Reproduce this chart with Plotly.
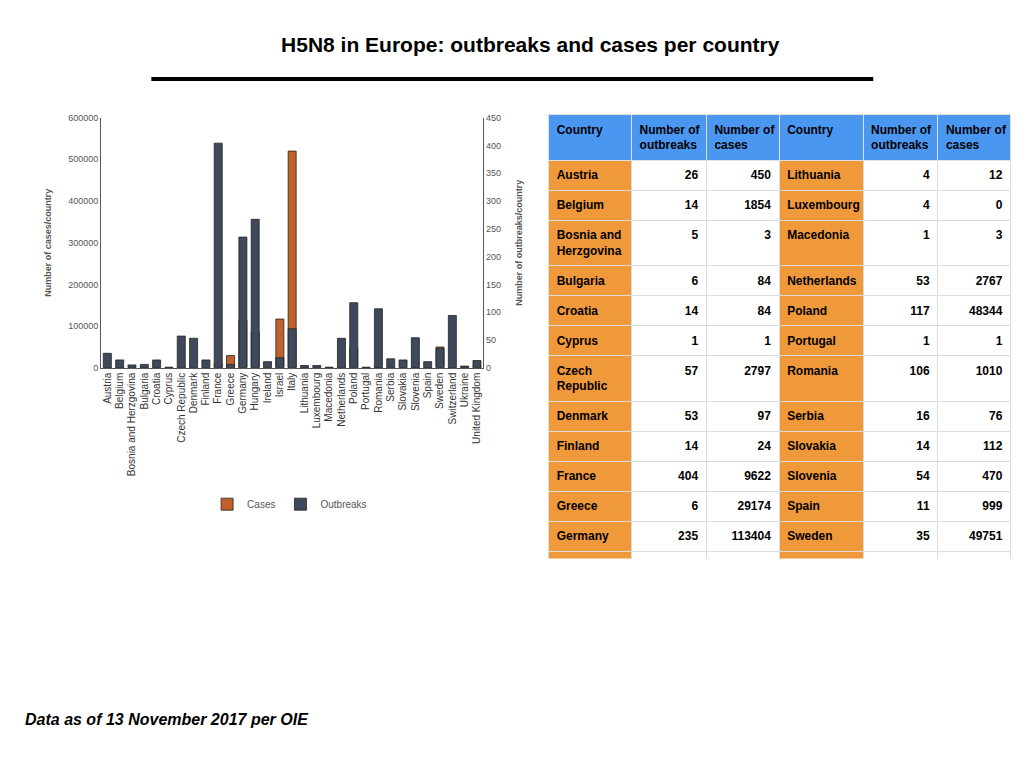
import plotly.graph_objects as go

countries = ["Austria", "Belgium", "Bosnia and Herzgovina", "Bulgaria", "Croatia", "Cyprus",
             "Czech Republic", "Denmark", "Finland", "France", "Greece", "Germany", "Hungary",
             "Ireland", "Israel", "Italy", "Lithuania", "Luxembourg", "Macedonia", "Netherlands",
             "Poland", "Portugal", "Romania", "Serbia", "Slovakia", "Slovenia", "Spain", "Sweden",
             "Switzerland", "Ukraine", "United Kingdom"]
outbreaks = [26, 14, 5, 6, 14, 1, 57, 53, 14, 404, 6, 235, 267, 11, 18, 70, 4, 4, 1, 53,
             117, 1, 106, 16, 14, 54, 11, 35, 94, 3, 13]
cases = [450, 1854, 3, 84, 84, 1, 2797, 97, 24, 9622, 29174, 113404, 85642, 14, 116803, 519635,
         12, 0, 3, 2767, 48344, 1, 1010, 76, 112, 470, 999, 49751, 132, 54, 3519]

# table labels (with line breaks as on the slide)
tbl_left = ["Austria", "Belgium", "Bosnia and<br>Herzgovina", "Bulgaria", "Croatia", "Cyprus",
            "Czech<br>Republic", "Denmark", "Finland", "France", "Greece", "Germany", "Hungary",
            "Ireland", "Israel", "Italy"]
tbl_right = ["Lithuania", "Luxembourg", "Macedonia", "Netherlands", "Poland", "Portugal",
             "Romania", "Serbia", "Slovakia", "Slovenia", "Spain", "Sweden", "Switzerland",
             "Ukraine", "United<br>Kingdom", ""]

ORANGE_BAR = "#c0622a"
SLATE = "#3e4a5c"
BLUE = "#4a97f2"
ORANGE = "#f0993a"
FONT = "Liberation Sans"

fig = go.Figure()
fig.add_trace(go.Bar(x=countries, y=cases, name="Cases", marker_color=ORANGE_BAR,
                     marker_line=dict(color="#222", width=0.8), offsetgroup="a", yaxis="y"))
fig.add_trace(go.Bar(x=countries, y=outbreaks, name="Outbreaks", marker_color=SLATE,
                     marker_line=dict(color="#222", width=0.8), offsetgroup="a", yaxis="y2"))

n = len(tbl_left)
fig.add_trace(go.Table(
    domain=dict(x=[0.528, 0.98], y=[0.28, 0.866]),
    columnwidth=[82, 74, 72, 83, 74, 72],
    header=dict(values=["<b>Country</b>", "<b>Number of<br>outbreaks</b>", "<b>Number of<br>cases</b>",
                        "<b>Country</b>", "<b>Number of<br>outbreaks</b>", "<b>Number of<br>cases</b>"],
                fill_color=BLUE, line_color="#e0e0e0", align="left", height=30,
                font=dict(family=FONT, size=12, color="black")),
    cells=dict(values=[["<b>%s</b>" % c for c in tbl_left],
                       ["<b>%d</b>" % v for v in outbreaks[:n]],
                       ["<b>%d</b>" % v for v in cases[:n]],
                       ["<b>%s</b>" % c for c in tbl_right],
                       ["<b>%d</b>" % v for v in outbreaks[n:]] + [""],
                       ["<b>%d</b>" % v for v in cases[n:]] + [""]],
               fill_color=[ORANGE, "white", "white", ORANGE, "white", "white"],
               line_color="#dcdcdc", align=["left", "right", "right", "left", "right", "right"],
               height=17, font=dict(family=FONT, size=12, color="black"))))

fig.update_layout(
    width=1024, height=768, margin=dict(l=0, r=0, t=0, b=0),
    paper_bgcolor="white", plot_bgcolor="white",
    font=dict(family=FONT, color="#555"),
    bargap=0.35,
    title=dict(text="<b>H5N8 in Europe: outbreaks and cases per country</b>", x=0.51, y=0.962,
               xanchor="center", font=dict(size=21, color="black", family=FONT)),
    xaxis=dict(domain=[0.091, 0.464], anchor="y", tickangle=-90, showline=True, linecolor="#555",
               tickfont=dict(size=10, color="#333"), ticks=""),
    yaxis=dict(domain=[0.532, 0.862], range=[0, 600000], dtick=100000, showgrid=False,
               showline=True, linecolor="#555", tickfont=dict(size=9, color="#555"),
               title=dict(text="<b>Number of cases/country</b>", font=dict(size=9)), zeroline=False,
               tickformat="d"),
    yaxis2=dict(overlaying="y", side="right", anchor="x", range=[0, 450], dtick=50, showgrid=False,
                showline=True, linecolor="#555", tickfont=dict(size=9, color="#555"),
                title=dict(text="<b>Number of outbreaks/country</b>", font=dict(size=9)), zeroline=False),
    legend=dict(orientation="h", x=0.275, y=0.352, xanchor="center", yanchor="middle",
                font=dict(size=10, color="#555"), itemwidth=30),
    shapes=[dict(type="line", xref="paper", yref="paper", x0=0.14, x1=0.845, y0=0.913, y1=0.913,
                 line=dict(color="black", width=4))],
    annotations=[dict(text="<b><i>Data as of 13 November 2017 per OIE</i></b>", xref="paper",
                      yref="paper", x=0.015, y=0.054, xanchor="left", showarrow=False,
                      font=dict(size=16, color="black", family=FONT))],
)

fig.write_html("out.html")
